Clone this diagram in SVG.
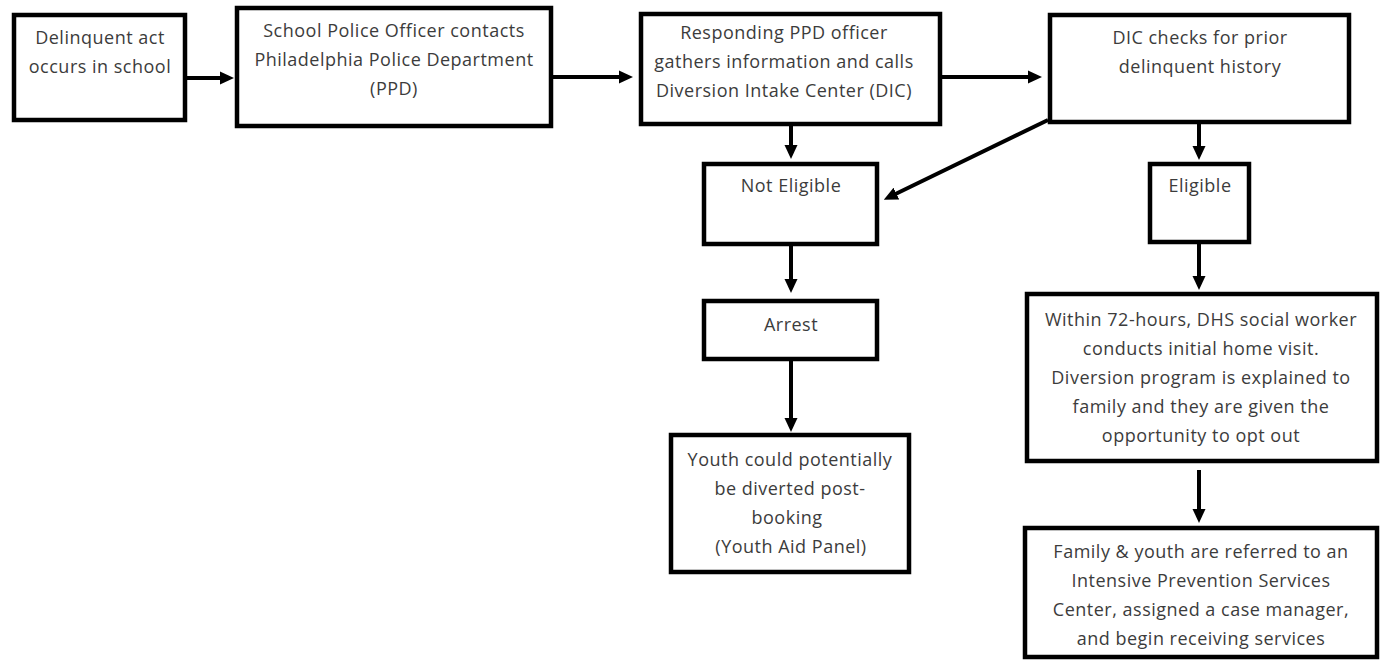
<svg xmlns="http://www.w3.org/2000/svg" width="1384" height="660" viewBox="0 0 1384 660">
<style>
.box{fill:#fff;stroke:#000;stroke-width:4.5}
.t{font-family:"Open Sans","Liberation Sans",sans-serif;font-size:18px;letter-spacing:0.5px;fill:#3c3c3c;text-anchor:middle}
.c{stroke:#000;stroke-width:4;fill:none}
</style>
<defs>
<marker id="ah" markerUnits="userSpaceOnUse" markerWidth="14" markerHeight="14" refX="1" refY="7" orient="auto">
<path d="M0,0.5 L14,7 L0,13.5 z" fill="#000"/>
</marker>
</defs>
<rect width="1384" height="660" fill="#fff"/>
<g id="connectors">
<line class="c" x1="187" y1="78" x2="221" y2="78" marker-end="url(#ah)"/>
<line class="c" x1="553" y1="77" x2="620" y2="77" marker-end="url(#ah)"/>
<line class="c" x1="942" y1="77" x2="1029" y2="77" marker-end="url(#ah)"/>
<line class="c" x1="791" y1="126" x2="791" y2="146" marker-end="url(#ah)"/>
<line class="c" x1="1048" y1="120" x2="895.5" y2="194" marker-end="url(#ah)"/>
<line class="c" x1="791" y1="246" x2="791" y2="280" marker-end="url(#ah)"/>
<line class="c" x1="791" y1="361" x2="791" y2="419" marker-end="url(#ah)"/>
<line class="c" x1="1199" y1="124" x2="1199" y2="147" marker-end="url(#ah)"/>
<line class="c" x1="1199" y1="244" x2="1199" y2="277" marker-end="url(#ah)"/>
<line class="c" x1="1199" y1="470" x2="1199" y2="510" marker-end="url(#ah)"/>
</g>
<g id="n1">
<rect class="box" x="14" y="15" width="171" height="105"/>
<text class="t" x="100" y="44">Delinquent act</text>
<text class="t" x="100" y="73">occurs in school</text>
</g>
<g id="n2">
<rect class="box" x="237" y="8" width="314" height="118"/>
<text class="t" x="394" y="37">School Police Officer contacts</text>
<text class="t" x="394" y="66">Philadelphia Police Department</text>
<text class="t" x="394" y="95">(PPD)</text>
</g>
<g id="n3">
<rect class="box" x="641" y="14" width="299" height="110"/>
<text class="t" x="784" y="39">Responding PPD officer</text>
<text class="t" x="784" y="68">gathers information and calls</text>
<text class="t" x="784" y="97">Diversion Intake Center (DIC)</text>
</g>
<g id="n4">
<rect class="box" x="1050" y="15" width="299" height="107"/>
<text class="t" x="1200" y="44">DIC checks for prior</text>
<text class="t" x="1200" y="73">delinquent history</text>
</g>
<g id="n5">
<rect class="box" x="704" y="164" width="173" height="80"/>
<text class="t" x="791" y="192">Not Eligible</text>
</g>
<g id="n6">
<rect class="box" x="704" y="301" width="173" height="58"/>
<text class="t" x="791" y="331">Arrest</text>
</g>
<g id="n7">
<rect class="box" x="671" y="435" width="238" height="137"/>
<text class="t" x="790" y="466">Youth could potentially</text>
<text class="t" x="790" y="495">be diverted post-</text>
<text class="t" x="787" y="524">booking</text>
<text class="t" x="791" y="553">(Youth Aid Panel)</text>
</g>
<g id="n8">
<rect class="box" x="1150" y="164" width="99" height="78"/>
<text class="t" x="1200" y="192">Eligible</text>
</g>
<g id="n9">
<rect class="box" x="1027" y="294" width="350" height="167"/>
<text class="t" x="1201" y="326">Within 72-hours, DHS social worker</text>
<text class="t" x="1201" y="355">conducts initial home visit.</text>
<text class="t" x="1201" y="384">Diversion program is explained to</text>
<text class="t" x="1201" y="413">family and they are given the</text>
<text class="t" x="1201" y="442">opportunity to opt out</text>
</g>
<g id="n10">
<rect class="box" x="1025" y="528" width="352" height="129"/>
<text class="t" x="1201" y="558">Family &amp; youth are referred to an</text>
<text class="t" x="1201" y="587">Intensive Prevention Services</text>
<text class="t" x="1201" y="616">Center, assigned a case manager,</text>
<text class="t" x="1201" y="645">and begin receiving services</text>
</g>
</svg>
